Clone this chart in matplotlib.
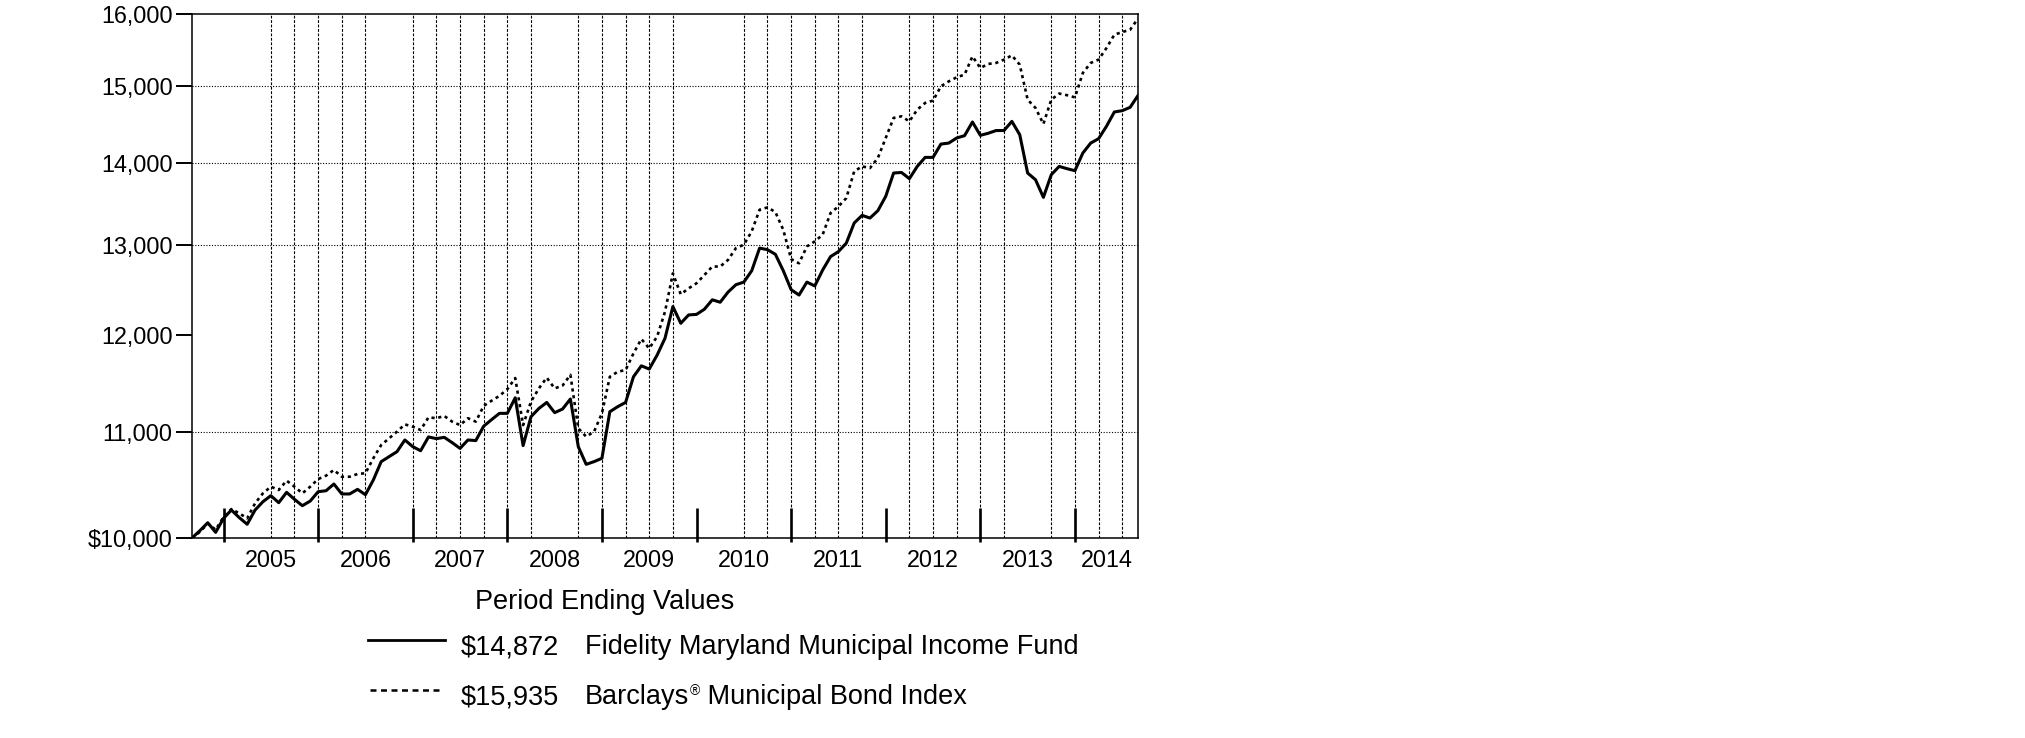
import matplotlib
matplotlib.use("Agg")
import matplotlib.pyplot as plt
from matplotlib.ticker import FixedLocator, NullLocator, FixedFormatter
from matplotlib.lines import Line2D

plt.rcParams['font.family'] = ['Liberation Sans', 'DejaVu Sans']

# ---------------- data ----------------
# monthly values, Aug 2004 (month 0) .. Aug 2014 (month 120)
months = list(range(121))

fund = [10000, 10066, 10138, 10051, 10178, 10254, 10184, 10124, 10254, 10331,
        10387, 10322, 10418, 10353, 10294, 10337, 10424, 10433, 10496, 10403,
        10403, 10446, 10396, 10534, 10709, 10757, 10805, 10919, 10854, 10814,
        10949, 10932, 10945, 10893, 10837, 10919, 10913, 11055, 11120, 11183,
        11183, 11340, 10864, 11149, 11232, 11293, 11190, 11226, 11328, 10854,
        10683, 10709, 10741, 11199, 11250, 11293, 11556, 11670, 11636, 11783,
        11962, 12307, 12124, 12215, 12221, 12278, 12382, 12355, 12468, 12551,
        12580, 12709, 12970, 12951, 12898, 12710, 12495, 12435, 12580, 12537,
        12717, 12871, 12929, 13028, 13265, 13356, 13324, 13412, 13586, 13873,
        13880, 13803, 13956, 14069, 14069, 14238, 14251, 14316, 14346, 14523,
        14350, 14377, 14412, 14412, 14531, 14358, 13873, 13790, 13574, 13852,
        13956, 13927, 13902, 14124, 14251, 14307, 14467, 14654, 14671, 14715,
        14872]

index = [10000, 10055, 10130, 10075, 10190, 10263, 10224, 10178, 10316, 10409,
         10471, 10440, 10528, 10471, 10409, 10471, 10543, 10575, 10629, 10565,
         10565, 10591, 10598, 10741, 10870, 10935, 11001, 11073, 11050, 11017,
         11143, 11134, 11157, 11100, 11066, 11134, 11100, 11258, 11310, 11360,
         11428, 11543, 11066, 11301, 11436, 11547, 11436, 11465, 11576, 11034,
         10952, 11001, 11183, 11556, 11608, 11626, 11801, 11954, 11854, 11980,
         12250, 12679, 12443, 12510, 12567, 12661, 12757, 12757, 12833, 12970,
         13009, 13166, 13424, 13452, 13396, 13185, 12842, 12794, 12989, 13048,
         13127, 13384, 13464, 13565, 13894, 13956, 13935, 14061, 14316, 14576,
         14597, 14531, 14685, 14773, 14804, 14995, 15062, 15117, 15153, 15403,
         15244, 15299, 15313, 15358, 15417, 15289, 14817, 14707, 14497, 14817,
         14898, 14876, 14847, 15176, 15313, 15358, 15519, 15706, 15743, 15776,
         15935]

y_ticks = [10000, 11000, 12000, 13000, 14000, 15000, 16000]
y_tick_labels = ["$10,000", "11,000", "12,000", "13,000", "14,000", "15,000", "16,000"]
h_grid = [11000, 13000, 14000, 15000]

year_labels = ["2005", "2006", "2007", "2008", "2009", "2010", "2011", "2012", "2013", "2014"]
year_label_months = [10, 22, 34, 46, 58, 70, 82, 94, 106, 116]
year_tick_months = [4, 16, 28, 40, 52, 64, 76, 88, 100, 112]
v_grid = [10, 13, 16, 19, 22, 28, 31, 34, 37, 40, 43, 49, 52, 55, 58, 61,
          70, 73, 76, 79, 82, 85, 91, 94, 97, 100, 103, 109, 112, 115, 118]

legend_title = "Period Ending Values"
legend_values = ["$14,872", "$15,935"]
legend_names = ["Fidelity Maryland Municipal Income Fund", "Barclays"]
legend_name2_tail = " Municipal Bond Index"

# ---------------- figure ----------------
W, H = 2025, 738
fig = plt.figure(figsize=(W / 100, H / 100), dpi=100)


def fx(x):
    return x / W


def fy(y):
    return 1 - y / H


ax = fig.add_axes([fx(192), fy(538), 946 / W, 524 / H])
ax.set_yscale('log')
ax.set_xlim(0, 120)
ax.set_ylim(10000, 16000)

ax.yaxis.set_major_locator(FixedLocator(y_ticks))
ax.yaxis.set_major_formatter(FixedFormatter(y_tick_labels))
ax.yaxis.set_minor_locator(NullLocator())
ax.tick_params(axis='y', direction='out', length=11.5, width=1.4, pad=2.4,
               labelsize=16.8, colors='black')

ax.set_xticks(year_label_months)
ax.set_xticklabels(year_labels)
ax.xaxis.set_minor_locator(NullLocator())
ax.tick_params(axis='x', length=0, pad=8, labelsize=16.8)

for s in ax.spines.values():
    s.set_linewidth(1.1)
    s.set_color('black')

for v in h_grid:
    ax.axhline(v, color='black', lw=0.8, ls=(0, (1, 1.5)), zorder=1)
for m in v_grid:
    ax.axvline(m, color='black', lw=0.8, ls=(0, (2.5, 1.5)), zorder=1)

ax.vlines(year_tick_months, -4 / 524, 30 / 524, transform=ax.get_xaxis_transform(),
          colors='black', lw=1.9, clip_on=False, zorder=4)

ax.plot(months, index, color='black', lw=1.9, ls=(0, (1.2, 1.4)), zorder=3)
ax.plot(months, fund, color='black', lw=2.2, zorder=3)

# ---------------- legend ----------------
fs_leg = 19.5
fig.text(fx(475), fy(609), legend_title, fontsize=fs_leg, va='baseline', ha='left')

fig.add_artist(Line2D([fx(368), fx(445)], [fy(639.5), fy(639.5)], color='black', lw=2.0))
fig.add_artist(Line2D([fx(370), fx(442)], [fy(690), fy(690)], color='black', lw=1.8,
                      ls=(0, (2.4, 1.8))))

fig.text(fx(461), fy(654.5), legend_values[0], fontsize=fs_leg, va='baseline')
fig.text(fx(461), fy(704.5), legend_values[1], fontsize=fs_leg, va='baseline')
fig.text(fx(585), fy(654.5), legend_names[0], fontsize=fs_leg, va='baseline')
t_b = fig.text(fx(585), fy(704.5), legend_names[1], fontsize=fs_leg, va='baseline')

fig.canvas.draw()
r = fig.canvas.get_renderer()
bb = t_b.get_window_extent(renderer=r)
t_r = fig.text((bb.x1 + 1) / W, fy(704.5 - 9), "\u00ae", fontsize=10, va='baseline')
bb2 = t_r.get_window_extent(renderer=r)
fig.text((bb2.x1) / W, fy(704.5), legend_name2_tail, fontsize=fs_leg, va='baseline')

fig.savefig("out.png", dpi=100)
